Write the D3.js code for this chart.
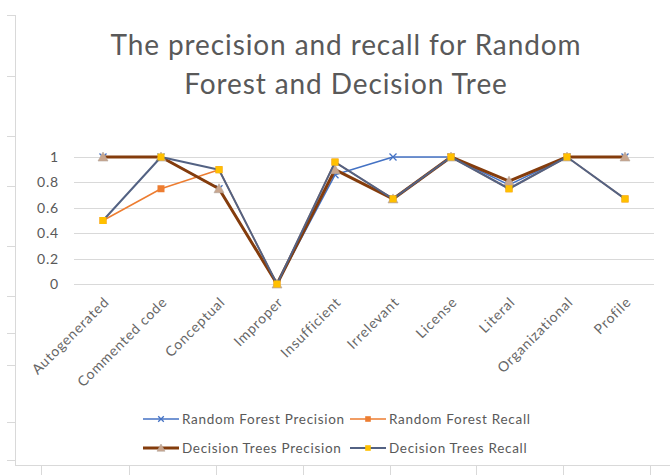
<!DOCTYPE html>
<meta charset="utf-8">
<script src="https://d3js.org/d3.v7.min.js"></script>
<style>
  body { margin: 0; background: white; }
  svg { font-family: Lato, "Open Sans", sans-serif; }
</style>
<body>
<div id="chart"></div>
<script>
var categories = ["Autogenerated", "Commented code", "Conceptual", "Improper", "Insufficient",
                  "Irrelevant", "License", "Literal", "Organizational", "Profile"];
var rfPrecision = [1, 1, 0.75, 0, 0.86, 1, 1, 0.78, 1, 1];
var rfRecall    = [0.5, 0.75, 0.9, 0, 0.96, 0.67, 1, 0.75, 1, 0.67];
var dtPrecision = [1, 1, 0.75, 0, 0.9, 0.67, 1, 0.81, 1, 1];
var dtRecall    = [0.5, 1, 0.9, 0, 0.96, 0.67, 1, 0.75, 1, 0.67];
var yTicks = [0, 0.2, 0.4, 0.6, 0.8, 1];

var width = 670, height = 475;
var svg = d3.select("#chart").append("svg")
    .attr("width", width).attr("height", height);

// sheet edge decoration (left and bottom)
var rowMarks = [15, 76, 136, 186, 246, 296, 333, 365, 422, 460];
var colMarks = [41, 129, 216, 303, 390, 476, 563, 650];
svg.append("line").attr("x1", 15.5).attr("x2", 15.5).attr("y1", 15).attr("y2", 466)
    .attr("stroke", "#d9d9d9");
svg.append("line").attr("x1", 15).attr("x2", 670).attr("y1", 465.5).attr("y2", 465.5)
    .attr("stroke", "#d9d9d9");
svg.selectAll(".rowmark").data(rowMarks).enter().append("line")
    .attr("x1", 7).attr("x2", 15).attr("y1", d => d + 0.5).attr("y2", d => d + 0.5)
    .attr("stroke", "#d9d9d9");
svg.selectAll(".colmark").data(colMarks).enter().append("line")
    .attr("x1", d => d + 0.5).attr("x2", d => d + 0.5).attr("y1", 466).attr("y2", 475)
    .attr("stroke", "#d9d9d9");

// title
var title = svg.append("text").attr("text-anchor", "middle")
    .attr("fill", "#595959").style("font-size", "28px").style("letter-spacing", "0.9px");
title.append("tspan").attr("x", 346).attr("y", 55).text("The precision and recall for Random");
title.append("tspan").attr("x", 346).attr("y", 94).text("Forest and Decision Tree");

var x = d3.scalePoint().domain(categories).range([74, 654]).padding(0.5);
var y = d3.scaleLinear().domain([0, 1]).range([284, 157]);

// gridlines
svg.selectAll(".grid").data(yTicks).enter().append("line")
    .attr("x1", 74).attr("x2", 654)
    .attr("y1", d => Math.round(y(d)) + 0.5).attr("y2", d => Math.round(y(d)) + 0.5)
    .attr("stroke", "#d9d9d9").attr("stroke-width", 1);

svg.selectAll(".ylab").data(yTicks).enter().append("text")
    .attr("x", 59).attr("y", d => y(d) + 5)
    .attr("text-anchor", "end").attr("fill", "#595959")
    .style("font-size", "14px").style("letter-spacing", "0.8px")
    .text(d => d3.format("~g")(d));

// category labels
svg.selectAll(".xlab").data(categories).enter().append("text")
    .attr("transform", d => "translate(" + (x(d) + 7) + ",303) rotate(-45)")
    .attr("text-anchor", "end").attr("fill", "#666666")
    .style("font-size", "14px").style("letter-spacing", "0.8px")
    .text(d => d);

var series = [
  { name: "Random Forest Precision", values: rfPrecision, color: "#4472c4", width: 1.5, marker: "x", mfill: "#4472c4" },
  { name: "Random Forest Recall", values: rfRecall, color: "#ed7d31", width: 1.5, marker: "square", mfill: "#ed7d31" },
  { name: "Decision Trees Precision", values: dtPrecision, color: "#843c0c", width: 3, marker: "triangle", mfill: "#c9a68e" },
  { name: "Decision Trees Recall", values: dtRecall, color: "#536283", width: 2, marker: "square", mfill: "#ffc000" }
];

var line = d3.line().x((d, i) => x(categories[i])).y(d => y(d));

function drawMarker(g, s, cx, cy, scale) {
  scale = scale || 1;
  if (s.marker === "x") {
    var r = 3.5 * scale;
    g.append("path")
      .attr("d", "M" + (cx - r) + "," + (cy - r) + "L" + (cx + r) + "," + (cy + r) +
                 "M" + (cx - r) + "," + (cy + r) + "L" + (cx + r) + "," + (cy - r))
      .attr("stroke", s.mfill).attr("stroke-width", 1.3).attr("fill", "none");
  } else if (s.marker === "square") {
    var h = 3.5 * scale;
    g.append("rect").attr("x", cx - h).attr("y", cy - h).attr("width", 2 * h).attr("height", 2 * h)
      .attr("fill", s.mfill);
  } else {
    var t = 5 * scale;
    g.append("path")
      .attr("d", "M" + cx + "," + (cy - t) + "L" + (cx + t) + "," + (cy + t * 0.8) + "L" + (cx - t) + "," + (cy + t * 0.8) + "Z")
      .attr("fill", s.mfill).attr("stroke", "#b4a69c").attr("stroke-width", 0.6);
  }
}

series.forEach(function(s) {
  var g = svg.append("g");
  g.append("path").datum(s.values)
    .attr("d", line).attr("fill", "none")
    .attr("stroke", s.color).attr("stroke-width", s.width)
    .attr("stroke-linejoin", "round");
  s.values.forEach(function(v, i) {
    drawMarker(g, s, x(categories[i]), y(v));
  });
});

// legend
var legendPos = [[143, 419], [350, 419], [143, 448], [350, 448]];
series.forEach(function(s, i) {
  var lx = legendPos[i][0], ly = legendPos[i][1];
  var g = svg.append("g");
  g.append("line").attr("x1", lx).attr("x2", lx + 36).attr("y1", ly).attr("y2", ly)
    .attr("stroke", s.color).attr("stroke-width", s.width);
  drawMarker(g, s, lx + 18, ly, 0.8);
  g.append("text").attr("x", lx + 39).attr("y", ly + 5)
    .attr("fill", "#595959").style("font-size", "13.5px").style("letter-spacing", "0.7px")
    .text(s.name);
});
</script>
</body>
